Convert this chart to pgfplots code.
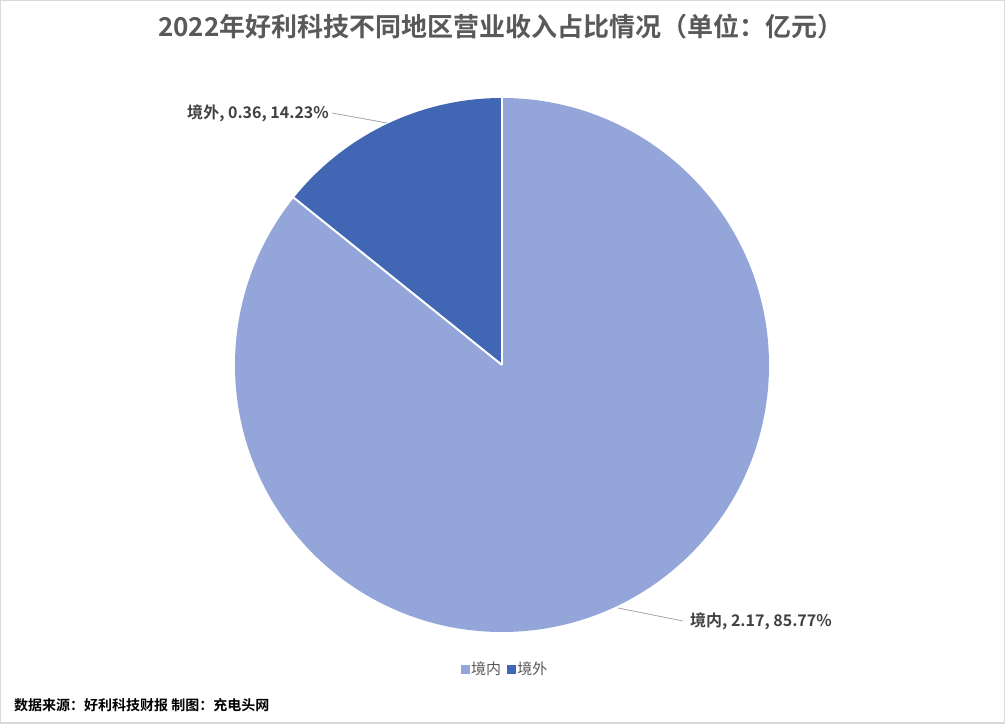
\documentclass[border=0pt]{standalone}
\usepackage{pgfplots}
\pgfplotsset{compat=1.18}
\usepackage{pgfplotstable}
\usepackage{fontspec}
\setmainfont{Noto Sans CJK SC}[BoldFont={Noto Sans CJK SC Bold}]

\definecolor{inner}{HTML}{94A5DA}
\definecolor{outer}{HTML}{4066B4}
\definecolor{titlegray}{HTML}{595959}
\definecolor{labelgray}{HTML}{404040}
\definecolor{leader}{HTML}{A6A6A6}
\definecolor{frame}{HTML}{D9D9D9}

% revenue by region, 100 million yuan
\pgfplotstableread{
region value
in     2.17
out    0.36
}\regions

\pgfplotstablegetelem{0}{value}\of\regions \let\vin\pgfplotsretval
\pgfplotstablegetelem{1}{value}\of\regions \let\vout\pgfplotsretval
\pgfmathsetmacro\total{\vin+\vout}
\pgfmathsetmacro\split{90-360*\vin/\total}

\begin{document}
\begin{tikzpicture}
\begin{axis}[
    x=1bp, y=1bp,
    xmin=0, xmax=1005, ymin=0, ymax=724,
    axis lines=none,
    clip=false,
    legend columns=2,
    legend style={at={(axis cs:505,55)}, anchor=center, draw=none, fill=none,
        text=titlegray, font=\fontsize{15bp}{18bp}\selectfont,
        /tikz/every even column/.append style={column sep=4bp},
        /tikz/every odd column/.append style={column sep=0bp}},
    legend image code/.code={\fill[#1] (0bp,-4bp) rectangle (8bp,4bp);},
]
\addlegendimage{inner}
\addlegendentry{境内}
\addlegendimage{outer}
\addlegendentry{境外}

% slices
\fill[inner] (axis cs:502,359) -- ++(90:267bp) arc[start angle=90, end angle=\split, radius=267bp] -- cycle;
\fill[outer] (axis cs:502,359) -- ++(\split:267bp) arc[start angle=\split, end angle=-270, radius=267bp] -- cycle;
\draw[white, line width=2bp] (axis cs:502,359) -- ++(90:267bp);
\draw[white, line width=2bp] (axis cs:502,359) -- ++(\split:267bp);

% leader lines and data labels
\draw[leader, line width=0.8bp] (axis cs:332,611) -- (axis cs:387,601);
\draw[leader, line width=0.8bp] (axis cs:618,116) -- (axis cs:683,103);
\node[anchor=east, text=labelgray, inner sep=0pt, font=\fontsize{16bp}{20bp}\selectfont\bfseries]
    at (axis cs:329,611) {境外, 0.36, 14.23\%};
\node[anchor=west, text=labelgray, inner sep=0pt, font=\fontsize{16bp}{20bp}\selectfont\bfseries]
    at (axis cs:690,103) {境内, 2.17, 85.77\%};

% title and source
\node[text=titlegray, inner sep=0pt, font=\fontsize{26bp}{30bp}\selectfont\bfseries]
    at (axis cs:501,697) {2022年好利科技不同地区营业收入占比情况（单位：亿元）};
\node[anchor=west, inner sep=0pt, font=\fontsize{14bp}{17bp}\selectfont\bfseries]
    at (axis cs:14,19) {数据来源：好利科技财报 制图：充电头网};

\draw[frame, line width=1.5bp] (axis cs:0.75,0.75) rectangle (axis cs:1004.25,723.25);
\end{axis}
\end{tikzpicture}
\end{document}
